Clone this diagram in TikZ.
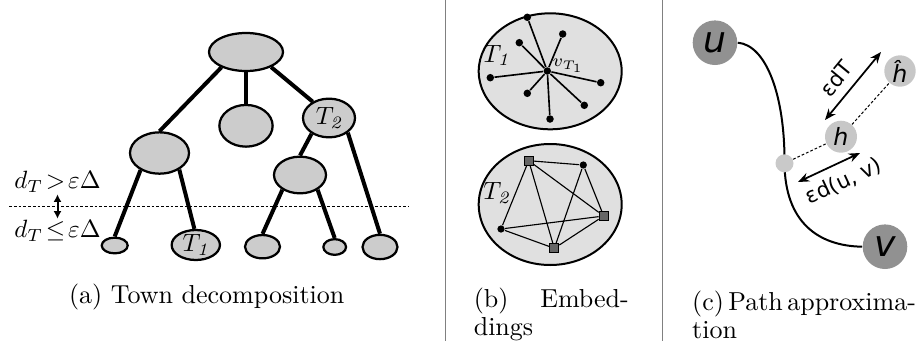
\documentclass[tikz,border=0pt]{standalone}
\usepackage{fontspec}
\newfontfamily\djv{DejaVu Sans}
\usetikzlibrary{shapes.geometric,arrows.meta}
\definecolor{treefill}{gray}{0.8}
\definecolor{embfill}{gray}{0.88}
\definecolor{sqfill}{gray}{0.4}
\definecolor{uvfill}{gray}{0.57}
\definecolor{hfill}{gray}{0.78}
\definecolor{pfill}{gray}{0.79}
\begin{document}
\begin{tikzpicture}[x=0.4pt,y=-0.4pt,
  sz/.style 2 args={minimum width=#1*0.4pt,minimum height=#2*0.4pt},
  tn/.style={ellipse,draw,fill=treefill,line width=0.9pt,inner sep=0pt},
  te/.style={line width=1.6pt},
  emb/.style={ellipse,draw,fill=embfill,line width=0.8pt,inner sep=0pt},
  stardot/.style={circle,fill=black,inner sep=0pt,minimum size=3pt},
  gdot/.style={circle,fill=black,inner sep=0pt,minimum size=2.9pt},
  gsq/.style={rectangle,draw=black,line width=0.4pt,fill=sqfill,inner sep=0pt,minimum size=3.6pt},
  se/.style={line width=0.65pt},
  ge/.style={line width=0.45pt},
  bigc/.style={circle,fill=uvfill,inner sep=0pt,minimum size=44.6*0.4pt,font=\djv\itshape\fontsize{14.5}{14.5}\selectfont},
  hc/.style={circle,fill=hfill,inner sep=0pt,font=\djv\itshape\fontsize{9.5}{9.5}\selectfont},
  pc/.style={circle,fill=pfill,inner sep=0pt,minimum size=7.2pt},
  curve/.style={line width=0.8pt},
  dsh/.style={line width=0.4pt,dash pattern=on 1.1pt off 0.8pt},
  dbl/.style={line width=0.7pt,{Stealth[length=4.5pt,width=3.6pt]}-{Stealth[length=4.5pt,width=3.6pt]}},
  captxt/.style={font=\fontsize{10.4}{10.9}\selectfont,inner sep=0pt},
  lab/.style={font=\djv\fontsize{8.5}{8.5}\selectfont,inner sep=0pt},
  sepline/.style={gray,line width=0.5pt}
]
\useasboundingbox (0,0) rectangle (922,347);

% ---------------- (a) ----------------
\node[tn,sz={74}{38}] (root) at (246,52) {};
\node[tn,sz={53.3}{41.7}] (mid) at (246,125.8) {};
\node[tn,sz={59}{41.3}] (lc) at (159.5,153) {};
\node[tn,sz={52}{38.7}] (t2) at (329,118) {$T_{\mathit{2}}$};
\node[tn,sz={52}{36.7}] (t2c) at (300,175) {};
\node[tn,sz={26}{15.7}] (l1) at (114.7,245.5) {};
\node[tn,sz={48.3}{30}] (t1) at (195.8,245) {$T_{\mathit{1}}$};
\node[tn,sz={35}{23.3}] (l3) at (262.5,246.7) {};
\node[tn,sz={22.7}{15.7}] (l4) at (334.7,247) {};
\node[tn,sz={35}{24.3}] (l5) at (380,247) {};

\draw[te] (root.212) -- (lc.north);
\draw[te] (root.south) -- (mid.north);
\draw[te] (root.329) -- (t2.135);
\draw[te] (lc.222) -- (l1.north);
\draw[te] (lc.320) -- (t1.95);
\draw[te] (t2.222) -- (t2c.north);
\draw[te] (t2.322) -- (l5.north);
\draw[te] (t2c.220) -- (l3.north);
\draw[te] (t2c.320) -- (l4.north);

\coordinate (dl) at (9,206);
\coordinate (dr) at (409,206);
\draw[dsh] (dl) -- (dr);

\node[inner sep=0.5pt] (g1) at (57.5,182) {$d_T\mkern-3mu>\mkern-3mu\varepsilon\Delta$};
\node[inner sep=0.5pt] (g2) at (57.5,231) {$d_T\mkern-3mu\leq\mkern-3mu\varepsilon\Delta$};
\draw[line width=0.8pt,{Latex[length=3pt,width=3.2pt]}-{Latex[length=3pt,width=3.2pt]}] (g1.south) -- (g2.north);

\node[captxt] (capa) at (206.7,297) {(a) Town decomposition};

% separators
\coordinate (s1t) at (445.7,0);
\coordinate (s1b) at (445.7,341);
\coordinate (s2t) at (662.3,0);
\coordinate (s2b) at (662.3,341);
\draw[sepline] (s1t) -- (s1b);
\draw[sepline] (s2t) -- (s2b);

% ---------------- (b) ----------------
\node[emb,sz={143}{116}] (e1) at (550.2,71.3) {};
\node[emb,sz={143}{121}] (e2) at (550.2,204.5) {};

\node[stardot] (c) at (547.3,71) {};
\node[stardot] (s1) at (527.3,17.3) {};
\node[stardot] (s2) at (562.7,34) {};
\node[stardot] (s3) at (519.3,42.7) {};
\node[stardot] (s4) at (490.3,77.7) {};
\node[stardot] (s5) at (600.7,82.7) {};
\node[stardot] (s6) at (527.3,93.3) {};
\node[stardot] (s7) at (584.3,105.3) {};
\node[stardot] (s8) at (550,119) {};
\foreach \i in {1,...,8} \draw[se] (c) -- (s\i);

\node (lt1) at (496.5,55.5) {$T_{\mathit{1}}$};
\node[inner sep=0pt,anchor=west] (lv) at (552,66) {\scriptsize$v_{T_1}$};

\node[gsq] (A) at (528.7,160.7) {};
\node[gdot] (B) at (583.3,165) {};
\node[gsq] (C) at (603.7,216) {};
\node[gdot] (D) at (501,229) {};
\node[gsq] (E) at (554.3,248.3) {};
\draw[ge] (A) -- (B);
\draw[ge] (A) -- (D);
\draw[ge] (A) -- (E);
\draw[ge] (A) -- (C);
\draw[ge] (B) -- (C);
\draw[ge] (B) -- (E);
\draw[ge] (D) -- (C);
\draw[ge] (D) -- (E);
\draw[ge] (E) -- (C);

\node (lt2) at (496.7,193.3) {$T_{\mathit{2}}$};

\node[captxt,text width=62pt,align=left,anchor=west] (capb) at (473.3,314.5) {(b)\hfill Embed-\\dings};

% ---------------- (c) ----------------
\node[bigc] (u) at (715,42.7) {u};
\node[bigc] (v) at (885,246.7) {v};
\coordinate (pp) at (784.5,163.3);
\draw[curve] (u.east) .. controls (766,45) and (785,95) .. (pp) .. controls (785,222) and (818,246) .. (v.west);
\node[pc] (p) at (pp) {};
\node[hc,minimum size=32*0.4pt] (h) at (841,136.7) {h};
\node[hc,minimum size=31.4*0.4pt] (hh) at (900,71) {ĥ};
\draw[dsh] (p) -- (h);
\draw[dsh] (h) -- (hh);

\coordinate (a1) at (825,120);
\coordinate (a2) at (881,52);
\draw[dbl] (a1) -- (a2) node[lab,midway,sloped,above=3.5pt,xshift=-2pt] (l1b) {εdT};
\coordinate (a3) at (798,182);
\coordinate (a4) at (860,153);
\draw[dbl] (a3) -- (a4) node[lab,midway,sloped,below=3.5pt,xshift=3pt] (l2b) {εd(u, v)};

\node[captxt,align=left,anchor=west] (capc) at (691.7,315) {\spaceskip=0.17em (c) Path approxima-\\tion};
\end{tikzpicture}
\end{document}
